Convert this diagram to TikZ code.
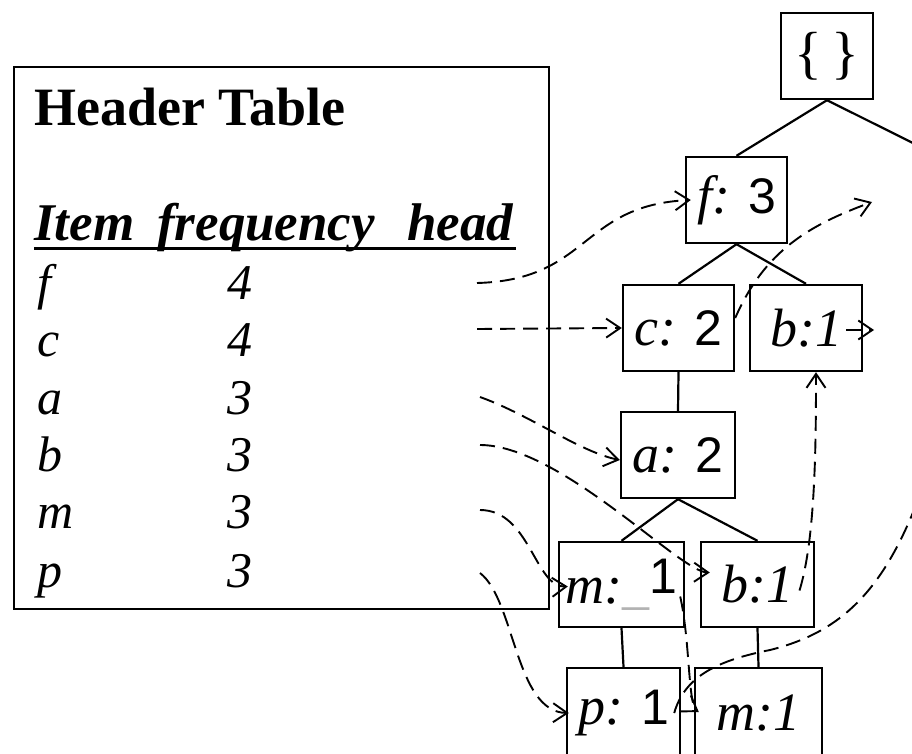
\documentclass[tikz,border=0pt]{standalone}
\usepackage{fontspec}
\setmainfont{Liberation Serif}
\setsansfont{Liberation Sans}
\usetikzlibrary{arrows.meta}

\newcommand{\fpcount}[1]{{\fontsize{50}{50}\selectfont\sffamily\upshape #1}}

\begin{document}
\begin{tikzpicture}[x=1pt,y=-1pt,
    fpnode/.style={draw, line width=2.4pt, inner sep=0pt, minimum height=86pt,
      font=\fontsize{54}{54}\selectfont\itshape},
    tedge/.style={line width=2.2pt},
    link/.style={line width=1.9pt, dash pattern=on 15pt off 8pt,
      -{Straight Barb[length=14pt,width=19pt,line width=1.9pt]}},
    rowtext/.style={anchor=base west, inner sep=0pt,
      font=\fontsize{50}{50}\selectfont\itshape},
    colhead/.style={anchor=base west, inner sep=0pt,
      font=\fontsize{53}{53}\selectfont\bfseries\itshape}]
    \useasboundingbox (0,0) rectangle (912,754);
    \clip (0,0) rectangle (912,754);

    % header table
    \node[draw, line width=2.8pt, minimum width=535pt, minimum height=542pt, inner sep=0pt] (htable) at (281.5,338) {};
    \node[anchor=base west, inner sep=0pt, font=\fontsize{54}{54}\selectfont\bfseries] (title) at (34,126) {Header Table};
    \node[colhead] (col-item) at (34,240) {Item};
    \node[colhead] (col-freq) at (157,240) {frequency};
    \node[colhead] (col-head) at (407,240) {head};
    \draw[line width=3pt] (34,248) -- (516,248);
    \foreach \nm/\fr/\y in {f/4/299, c/4/356, a/3/414, b/3/471, m/3/528, p/3/587} {
        \node[rowtext] (item-\nm) at (37,\y) {\nm};
        \node[rowtext] (freq-\nm) at (227,\y) {\fr};
    }

    % fp-tree
    \node[fpnode, minimum width=92pt, font=\fontsize{58}{58}\selectfont\upshape] (root) at (827,56) {\{\,\}};
    \node[fpnode, minimum width=101pt] (f) at (736.5,200) {f:\hspace{18pt}\fpcount{3}};
    \node[fpnode, minimum width=111pt] (c) at (678.5,328) {c:\hspace{18pt}\fpcount{2}};
    \node[fpnode, minimum width=112pt] (b1) at (806,328) {b:1};
    \node[fpnode, minimum width=114pt] (a) at (678,455) {a:\hspace{18pt}\fpcount{2}};
    \node[fpnode, minimum width=125pt, minimum height=85pt] (m) at (621.5,584.5) {m:\textcolor{gray!60}{\_}\raisebox{10pt}{\fpcount{1}}};
    \node[fpnode, minimum width=113pt, minimum height=85pt] (b2) at (757.5,584.5) {b:1};
    \node[fpnode, minimum width=113pt, minimum height=90pt] (p) at (623.5,713) {p:\hspace{18pt}\fpcount{1}};
    \node[fpnode, minimum width=127pt, minimum height=90pt] (m1) at (758.5,713) {m:1};

    \coordinate (root-next) at (935,154);
    \draw[tedge] (root.south) -- (f.north);
    \draw[tedge] (root.south) -- (root-next);
    \draw[tedge] (f.south) -- (c.north);
    \draw[tedge] (f.south) -- (b1.north);
    \draw[tedge] (c.south) -- (a.north);
    \draw[tedge] (a.south) -- (m.north);
    \draw[tedge] (a.south) -- (b2.north);
    \draw[tedge] (m.south) -- (p.north);
    \draw[tedge] (b2.south) -- (m1.north);

    % node-links
    \coordinate (head-f) at (477,283);
    \coordinate (head-c) at (477,329);
    \coordinate (head-a) at (480,397);
    \coordinate (head-b) at (480,445);
    \coordinate (head-m) at (480,510);
    \coordinate (head-p) at (480,573);
    \coordinate (c-next) at (872,202);
    \coordinate (b1-next) at (874,330);
    \coordinate (p-next) at (935,450);
    \draw[link] (head-f) .. controls (590,280) and (580,205) .. ([xshift=6pt]f.west);
    \draw[link] (head-c) -- (c.west);
    \draw[link] ([yshift=10pt]c.east) .. controls (765,250) and (810,225) .. (c-next);
    \draw[link] ([shift={(-17pt,-2pt)}]b1.east) -- (b1-next);
    \draw[link] (head-a) .. controls (530,415) and (580,452) .. ([yshift=-5pt]a.west);
    \draw[link] (head-b) .. controls (560,445) and (680,572) .. ([shift={(10pt,12pt)}]b2.west);
    \draw[link] ([shift={(42pt,-6pt)}]b2.center) .. controls (815,540) and (816,450) .. ([xshift=10pt]b1.south);
    \draw[link] (head-m) .. controls (530,510) and (535,588) .. ([shift={(10pt,-2pt)}]m.west);
    \draw[link] ([shift={(-5pt,-12pt)}]m.east) .. controls (690,640) and (688,705) .. ([shift={(5pt,1pt)}]m1.west);
    \draw[link] (head-p) .. controls (515,600) and (515,712) .. ([xshift=3pt]p.west);
    \draw[link] ([xshift=-7pt]p.east) .. controls (685,675) and (720,660) .. (770,650)
        .. controls (850,630) and (895,580) .. (p-next);
\end{tikzpicture}
\end{document}
